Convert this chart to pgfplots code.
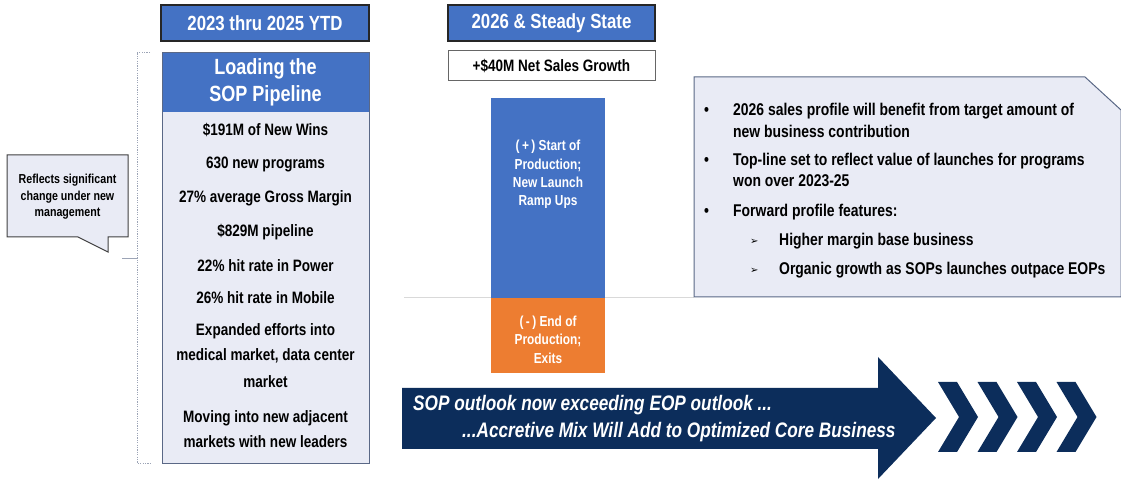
\documentclass[border=0pt]{standalone}
\usepackage{fontspec}
\setmainfont{Liberation Sans}[FakeStretch=0.82]
\newfontfamily\dejavu{DejaVu Sans}
\usepackage{pgfplots}
\pgfplotsset{compat=1.18}
\definecolor{hblue}{HTML}{4472C4}
\definecolor{borange}{HTML}{ED7D31}
\definecolor{navy}{HTML}{0C2D5B}
\definecolor{lav}{HTML}{E9EBF5}
\definecolor{bord}{HTML}{5A6886}
\begin{document}
\begin{tikzpicture}[x=1pt,y=1pt]
\useasboundingbox (0,0) rectangle (1121,479);
\begin{scope}[shift={(0,479)},y=-1pt]
\tikzset{
  lt/.style={font=\fontsize{16.5}{18}\selectfont\bfseries, inner sep=0pt},
  rt/.style={font=\fontsize{17}{18}\selectfont\bfseries, inner sep=0pt, anchor=west},
  hd/.style={font=\fontsize{20.5}{22}\selectfont\bfseries, inner sep=0pt, text=white},
  hl/.style={font=\fontsize{22}{24}\selectfont\bfseries, inner sep=0pt, text=white},
  ct/.style={font=\fontsize{13}{14}\selectfont\bfseries, inner sep=0pt},
  arrtxt/.style={font=\fontsize{21}{22}\selectfont\bfseries\itshape, text=white, inner sep=0pt, anchor=west},
}
% headers
\draw[fill=hblue, draw=black!85, line width=1.5pt] (161,5) rectangle (369,41);
\node[hd] at (265,23) {2023 thru 2025 YTD};
\draw[fill=hblue, draw=black!85, line width=1.5pt] (448,5) rectangle (655,41);
\node[hd] at (551.5,23) {2026 \& Steady State};
\draw[fill=white, draw=black!60, line width=1pt] (448,51) rectangle (655,81);
\node[font=\fontsize{16.5}{18}\selectfont\bfseries, inner sep=0pt] at (551.5,66) {+\$40M Net Sales Growth};
% loading box
\fill[lav] (162,112) rectangle (369,463);
\fill[hblue] (162,53) rectangle (369,112);
\draw[bord, line width=1pt] (162,53) rectangle (369,463);
\node[hl] at (265.5,69) {Loading the};
\node[hl] at (265.5,96) {SOP Pipeline};
\node[lt] at (265.5,130) {\$191M of New Wins};
\node[lt] at (265.5,164) {630 new programs};
\node[lt] at (265.5,198) {27\% average Gross Margin};
\node[lt] at (265.5,232) {\$829M pipeline};
\node[lt] at (265.5,266) {22\% hit rate in Power};
\node[lt] at (265.5,298) {26\% hit rate in Mobile};
\node[lt] at (265.5,331) {Expanded efforts into};
\node[lt] at (265.5,356) {medical market, data center};
\node[lt] at (265.5,382) {market};
\node[lt] at (265.5,418) {Moving into new adjacent};
\node[lt] at (265.5,442) {markets with new leaders};
% bracket
\draw[bord!60, dash pattern=on 1.2pt off 1.2pt, line width=0.7pt] (150,52) -- (137,52) -- (137,463) -- (150,463);
\draw[bord!60, line width=0.7pt] (122,258) -- (137,258);
% callout
\draw[fill=lav, draw=black!75, line width=1pt] (7,155) -- (128,155) -- (128,237) -- (108,237) -- (108,252) -- (78,237) -- (7,237) -- cycle;
\node[ct] at (67.5,180) {Reflects significant};
\node[ct] at (67.5,197) {change under new};
\node[ct] at (67.5,214) {management};
% zero line
\draw[gray!30, line width=0.8pt] (404,297.5) -- (694,297.5);
% right box
\draw[fill=lav, draw=bord, line width=1pt] (694,77) -- (1085,77) -- (1121,110) -- (1121,297) -- (694,297) -- cycle;
\node[rt] at (704,111) {•};
\node[rt] at (733,111) {2026 sales profile will benefit from target amount of};
\node[rt] at (733,131) {new business contribution};
\node[rt] at (704,161) {•};
\node[rt] at (733,161) {Top-line set to reflect value of launches for programs};
\node[rt] at (733,181) {won over 2023-25};
\node[rt] at (704,212) {•};
\node[rt] at (733,212) {Forward profile features:};
\node[rt, font=\dejavu\fontsize{10}{10}\selectfont] at (750,242) {➢};
\node[rt] at (779,241) {Higher margin base business};
\node[rt, font=\dejavu\fontsize{10}{10}\selectfont] at (750,271) {➢};
\node[rt] at (779,270) {Organic growth as SOPs launches outpace EOPs};
% big arrow
\fill[navy] (402,388) -- (878,388) -- (878,357) -- (936,418) -- (878,479) -- (878,449) -- (402,449) -- cycle;
\foreach \xo in {938,977.5,1017,1056.5}{
  \fill[navy] (\xo,382) -- (\xo+19,382) -- (\xo+40,417) -- (\xo+19,452) -- (\xo,452) -- (\xo+21,417) -- cycle;
}
\node[arrtxt] at (413,405) {SOP outlook now exceeding EOP outlook ...};
\node[arrtxt] at (462,432) {...Accretive Mix Will Add to Optimized Core Business};
\end{scope}
% the bar chart
\begin{axis}[at={(404pt,106pt)}, anchor=south west, scale only axis,
  width=290pt, height=275pt, xmin=0, xmax=290, ymin=-24, ymax=64,
  axis lines=none, clip=false, ybar, bar width=114pt, bar shift=0pt]
\addplot[fill=hblue, draw=none] coordinates {(144,64)};
\addplot[fill=borange, draw=none] coordinates {(144,-24)};
\node[text=white, align=center, font=\fontsize{14.5}{18.3}\selectfont\bfseries] at (axis cs:144,39.5) {(\,+\,) Start of\\Production;\\New Launch\\Ramp Ups};
\node[text=white, align=center, font=\fontsize{14.5}{18.5}\selectfont\bfseries] at (axis cs:144,-13.3) {(\,-\,) End of\\Production;\\Exits};
\end{axis}
\end{tikzpicture}
\end{document}
